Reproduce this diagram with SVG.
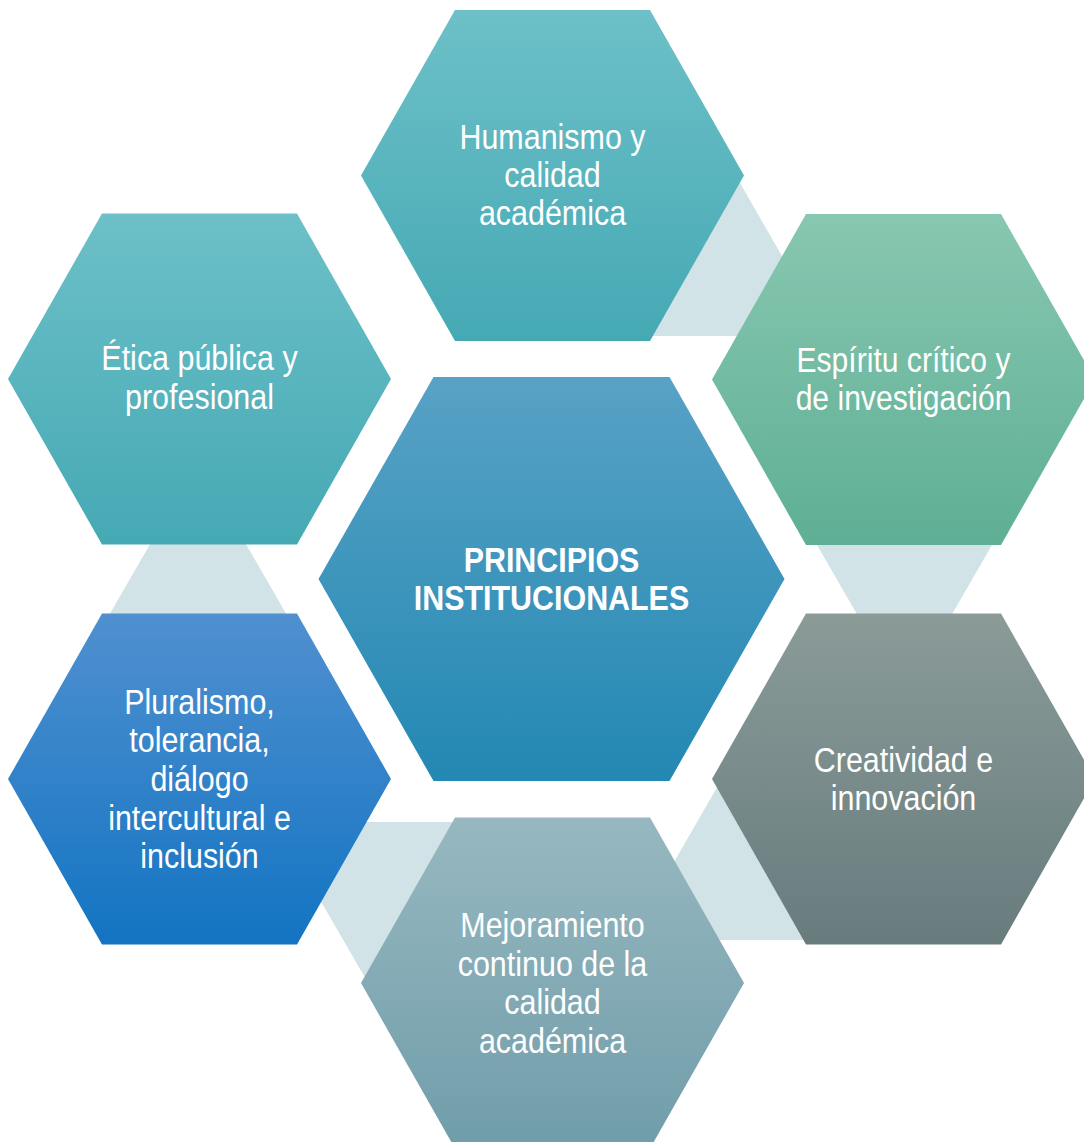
<svg xmlns="http://www.w3.org/2000/svg" width="1084" height="1142" viewBox="0 0 1084 1142">
<defs>
<linearGradient id="gTeal" x1="0" y1="0" x2="0" y2="1"><stop offset="0" stop-color="#6DC0C8"/><stop offset="1" stop-color="#45A9B4"/></linearGradient>
<linearGradient id="gGreen" x1="0" y1="0" x2="0" y2="1"><stop offset="0" stop-color="#88C7B0"/><stop offset="1" stop-color="#5EAF95"/></linearGradient>
<linearGradient id="gGrey" x1="0" y1="0" x2="0" y2="1"><stop offset="0" stop-color="#8A9B98"/><stop offset="1" stop-color="#687C7E"/></linearGradient>
<linearGradient id="gSlate" x1="0" y1="0" x2="0" y2="1"><stop offset="0" stop-color="#97B8C0"/><stop offset="1" stop-color="#709DAA"/></linearGradient>
<linearGradient id="gBlue" x1="0" y1="0" x2="0" y2="1"><stop offset="0" stop-color="#5090D0"/><stop offset="1" stop-color="#1374C2"/></linearGradient>
<linearGradient id="gCenter" x1="0" y1="0" x2="0" y2="1"><stop offset="0" stop-color="#58A2C5"/><stop offset="1" stop-color="#2388B3"/></linearGradient>
<style>
.conn{fill:#D2E3E7;}
.lbl{font-family:"Liberation Sans",Arial,sans-serif;font-size:35px;fill:#FFFFFF;text-anchor:middle;}
.ctr{font-family:"Liberation Sans",Arial,sans-serif;font-size:36px;font-weight:bold;fill:#FFFFFF;text-anchor:middle;}
</style>
</defs>
<rect width="1084" height="1142" fill="#FFFFFF"/>
<g id="connectors">
<polygon class="conn" points="739.5,182 652,336 828,336"/>
<polygon class="conn" points="814.7,541 994.3,541 904.5,696.5"/>
<polygon class="conn" points="198,461 108,617 288,617"/>
<polygon class="conn" points="275,822 460,822 367.5,982"/>
<polygon class="conn" points="629,940 809,940 719,784"/>
</g>
<g id="node-humanismo">
<polygon fill="url(#gTeal)" points="361,175.5 455,10 650,10 744,175.5 650,341 455,341"/>
<text class="lbl" transform="translate(552.5 0) scale(0.87 1)"><tspan x="0" y="149">Humanismo y</tspan><tspan x="0" y="187">calidad</tspan><tspan x="0" y="225">académica</tspan></text>
</g>
<g id="node-espiritu">
<polygon fill="url(#gGreen)" points="712,379.5 806,214 1001,214 1095,379.5 1001,545 806,545"/>
<text class="lbl" transform="translate(903.5 0) scale(0.86 1)"><tspan x="0" y="372">Espíritu crítico y</tspan><tspan x="0" y="410">de investigación</tspan></text>
</g>
<g id="node-creatividad">
<polygon fill="url(#gGrey)" points="712,779 806,613.5 1001,613.5 1095,779 1001,944.5 806,944.5"/>
<text class="lbl" transform="translate(903.5 0) scale(0.87 1)"><tspan x="0" y="772">Creatividad e</tspan><tspan x="0" y="810">innovación</tspan></text>
</g>
<g id="node-mejoramiento">
<polygon fill="url(#gSlate)" points="361,983 455,817.5 650,817.5 744,983 650,1148.5 455,1148.5"/>
<text class="lbl" transform="translate(552.5 0) scale(0.87 1)"><tspan x="0" y="937">Mejoramiento</tspan><tspan x="0" y="976">continuo de la</tspan><tspan x="0" y="1014">calidad</tspan><tspan x="0" y="1053">académica</tspan></text>
</g>
<g id="node-pluralismo">
<polygon fill="url(#gBlue)" points="8,779 102,613.5 297,613.5 391,779 297,944.5 102,944.5"/>
<text class="lbl" transform="translate(199.5 0) scale(0.87 1)"><tspan x="0" y="714">Pluralismo,</tspan><tspan x="0" y="752">tolerancia,</tspan><tspan x="0" y="791">diálogo</tspan><tspan x="0" y="830">intercultural e</tspan><tspan x="0" y="868">inclusión</tspan></text>
</g>
<g id="node-etica">
<polygon fill="url(#gTeal)" points="8,379 102,213.5 297,213.5 391,379 297,544.5 102,544.5"/>
<text class="lbl" transform="translate(199.5 0) scale(0.87 1)"><tspan x="0" y="370">Ética pública y</tspan><tspan x="0" y="409">profesional</tspan></text>
</g>
<g id="node-principios">
<polygon fill="url(#gCenter)" points="318.5,579 433.5,377 669.5,377 784.5,579 669.5,781 433.5,781"/>
<text class="ctr" transform="translate(551.5 0) scale(0.845 1)"><tspan x="0" y="572">PRINCIPIOS</tspan><tspan x="0" y="610">INSTITUCIONALES</tspan></text>
</g>
</svg>
